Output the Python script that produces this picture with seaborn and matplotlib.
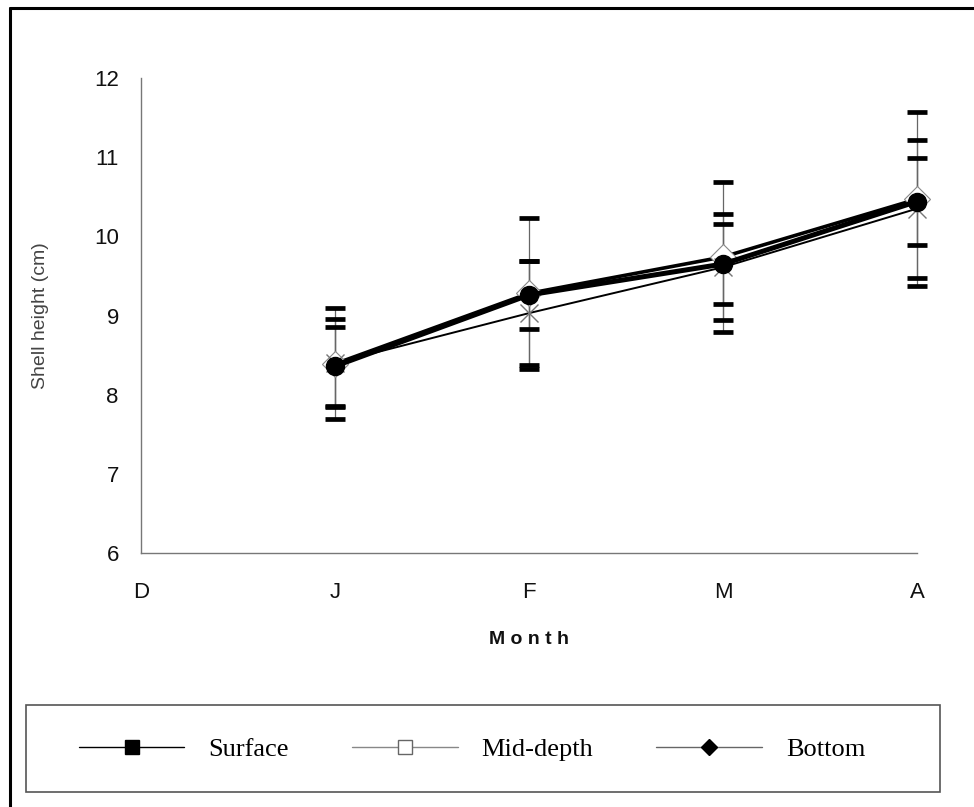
import matplotlib
matplotlib.use("Agg")
import matplotlib.pyplot as plt
import seaborn as sns
import pandas as pd
from matplotlib.lines import Line2D
from matplotlib.patches import Rectangle

months = ["D", "J", "F", "M", "A"]
x_pos = [1, 2, 3, 4]
series = ["Surface", "Mid-depth", "Bottom"]
surface = [8.36, 9.26, 9.65, 10.44]
surface_err = [0.5, 0.43, 0.5, 0.55]
mid = [8.40, 9.03, 9.61, 10.35]
mid_err = [0.55, 0.66, 0.67, 0.87]
bottom = [8.39, 9.28, 9.74, 10.47]
bottom_err = [0.70, 0.95, 0.95, 1.10]

df = pd.DataFrame({
    "x": x_pos * 3,
    "height": surface + mid + bottom,
    "err": surface_err + mid_err + bottom_err,
    "series": [s for s in series for _ in x_pos],
})

sns.set_style("white")
plt.rcParams["font.family"] = ["Liberation Sans", "DejaVu Sans"]

fig = plt.figure(figsize=(9.74, 8.07), dpi=100)
ax = fig.add_axes([141/974, 1-553/807, (917-141)/974, (553-78)/807])

styles = {
    "Bottom": dict(color="black", lw=2.6, marker="D", ms=13, mfc="white", mec="#888888", mew=0.8, z=3),
    "Mid-depth": dict(color="black", lw=1.4, marker="x", ms=13, mfc="none", mec="#777777", mew=1.0, z=4),
    "Surface": dict(color="black", lw=3.6, marker="o", ms=13, mfc="black", mec="black", mew=1, z=5),
}

for name in ["Bottom", "Mid-depth", "Surface"]:
    sub = df[df.series == name]
    st = styles[name]
    eb = ax.errorbar(sub["x"], sub["height"], yerr=sub["err"], fmt="none",
                     ecolor="#666666", elinewidth=0.9, capsize=7, capthick=3.4, zorder=2)
    for cap in eb[1]:
        cap.set_color("black")
        cap.set_markeredgecolor("black")
        cap.set_markerfacecolor("black")
        cap.set_clip_on(False)
    for bar in eb[2]:
        bar.set_clip_on(False)
    sns.lineplot(data=sub, x="x", y="height", ax=ax, color=st["color"], lw=st["lw"],
                 marker=st["marker"], markersize=st["ms"], markerfacecolor=st["mfc"],
                 markeredgecolor=st["mec"], markeredgewidth=st["mew"], zorder=st["z"],
                 legend=False, errorbar=None, clip_on=False)

ax.set_xlim(0, 4)
ax.set_ylim(6, 12)
ax.set_xticks(range(5))
ax.set_xticklabels(months)
ax.set_yticks(range(6, 13))
for s in ["top", "right"]:
    ax.spines[s].set_visible(False)
for s in ["left", "bottom"]:
    ax.spines[s].set_color("#777777")
    ax.spines[s].set_linewidth(1.0)
ax.tick_params(axis="both", direction="inout", length=8, width=0.9, color="#555555",
               labelsize=16, labelcolor="#111111")
ax.tick_params(axis="x", pad=17)
ax.tick_params(axis="y", pad=12)
ax.set_xlabel("M o n t h", fontsize=14, fontweight="bold", labelpad=20, color="#111111")
ax.set_ylabel("Shell height (cm)", fontsize=14, color="#444444", labelpad=32)

# outer frame (left and top edges)
fig.add_artist(Line2D([10/974, 10/974], [0, 1-8/807], color="black", lw=2.2, transform=fig.transFigure))
fig.add_artist(Line2D([10/974, 1], [1-8/807, 1-8/807], color="black", lw=2.2, transform=fig.transFigure))

# legend box
fig.add_artist(Rectangle((26/974, 1-792/807), (940-26)/974, (792-705)/807, transform=fig.transFigure,
                         facecolor="white", edgecolor="#555555", lw=1.2, zorder=1))

handles = [
    Line2D([], [], color="black", lw=1.0, marker="s", ms=10, mfc="black", mec="black"),
    Line2D([], [], color="#888888", lw=1.0, marker="s", ms=10, mfc="white", mec="#666666"),
    Line2D([], [], color="#666666", lw=1.0, marker="D", ms=8, mfc="black", mec="black"),
]
leg = fig.legend(handles, series, loc="center", ncol=3,
                 bbox_to_anchor=(472/974, 1-749/807),
                 prop={"family": "Liberation Serif", "size": 19}, frameon=False,
                 handlelength=4.0, handletextpad=0.9, columnspacing=2.4,
                 borderpad=0, borderaxespad=0, labelcolor="black")
leg.set_zorder(5)

fig.savefig("out.png", dpi=100)
